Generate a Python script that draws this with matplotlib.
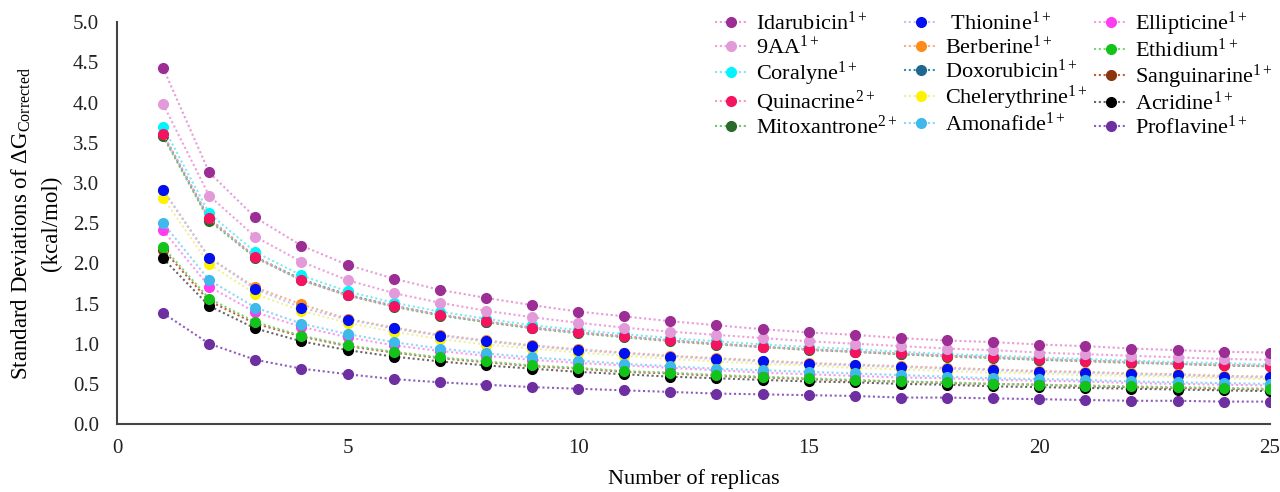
import numpy as np
import matplotlib
matplotlib.use('Agg')
import matplotlib.pyplot as plt

plt.rcParams['font.family'] = ['Liberation Serif', 'DejaVu Serif']
plt.rcParams['mathtext.fontset'] = 'custom'
plt.rcParams['mathtext.rm'] = 'Liberation Serif'
plt.rcParams['mathtext.it'] = 'Liberation Serif:italic'

# number of replicas
replicas = list(range(1, 26))

# standard deviations (kcal/mol)
idarubicin = [4.43, 3.13, 2.57, 2.22, 1.98, 1.81, 1.67, 1.57, 1.48, 1.40, 1.34, 1.28, 1.23,
              1.18, 1.14, 1.11, 1.07, 1.04, 1.02, 0.99, 0.97, 0.94, 0.92, 0.90, 0.89]
aa9 = [3.98, 2.84, 2.33, 2.02, 1.79, 1.63, 1.51, 1.41, 1.33, 1.26, 1.20, 1.15, 1.11,
       1.07, 1.03, 1.00, 0.97, 0.94, 0.92, 0.89, 0.87, 0.85, 0.83, 0.81, 0.80]
coralyne = [3.70, 2.62, 2.14, 1.85, 1.65, 1.51, 1.40, 1.31, 1.23, 1.17, 1.12, 1.07, 1.03,
            0.99, 0.96, 0.93, 0.90, 0.87, 0.85, 0.83, 0.81, 0.79, 0.77, 0.76, 0.74]
quinacrine = [3.61, 2.56, 2.08, 1.79, 1.60, 1.47, 1.36, 1.28, 1.20, 1.14, 1.09, 1.04, 1.00,
              0.96, 0.93, 0.90, 0.88, 0.85, 0.83, 0.81, 0.79, 0.77, 0.75, 0.74, 0.72]
mitoxantrone = [3.58, 2.53, 2.07, 1.79, 1.60, 1.46, 1.35, 1.27, 1.19, 1.13, 1.08, 1.03, 0.99,
                0.96, 0.92, 0.90, 0.87, 0.84, 0.82, 0.80, 0.78, 0.76, 0.75, 0.73, 0.72]
thionine = [2.91, 2.07, 1.68, 1.45, 1.30, 1.19, 1.10, 1.03, 0.97, 0.92, 0.88, 0.84, 0.81,
            0.78, 0.75, 0.73, 0.71, 0.69, 0.67, 0.65, 0.64, 0.62, 0.61, 0.59, 0.58]
berberine = [2.91, 2.07, 1.70, 1.49, 1.31, 1.20, 1.11, 1.04, 0.98, 0.93, 0.89, 0.85, 0.82,
             0.79, 0.76, 0.74, 0.72, 0.70, 0.68, 0.66, 0.65, 0.63, 0.62, 0.60, 0.59]
doxorubicin = [3.60, 2.55, 2.08, 1.80, 1.61, 1.47, 1.36, 1.27, 1.20, 1.14, 1.09, 1.04, 1.00,
               0.96, 0.93, 0.90, 0.87, 0.85, 0.83, 0.80, 0.79, 0.77, 0.75, 0.73, 0.72]
chelerythrine = [2.81, 1.99, 1.62, 1.41, 1.26, 1.15, 1.06, 0.99, 0.94, 0.89, 0.85, 0.81, 0.78,
                 0.75, 0.73, 0.70, 0.68, 0.66, 0.64, 0.63, 0.61, 0.60, 0.59, 0.57, 0.56]
amonafide = [2.50, 1.79, 1.45, 1.25, 1.12, 1.02, 0.94, 0.88, 0.83, 0.79, 0.75, 0.72, 0.69,
             0.67, 0.65, 0.63, 0.61, 0.59, 0.57, 0.56, 0.55, 0.53, 0.52, 0.51, 0.50]
ellipticine = [2.41, 1.71, 1.39, 1.21, 1.08, 0.98, 0.91, 0.85, 0.80, 0.76, 0.73, 0.70, 0.67,
               0.64, 0.62, 0.60, 0.58, 0.57, 0.55, 0.54, 0.53, 0.51, 0.50, 0.49, 0.48]
ethidium = [2.20, 1.56, 1.27, 1.10, 0.98, 0.90, 0.83, 0.78, 0.73, 0.70, 0.66, 0.64, 0.61,
            0.59, 0.57, 0.55, 0.53, 0.52, 0.50, 0.49, 0.48, 0.47, 0.46, 0.45, 0.44]
sanguinarine = [2.17, 1.53, 1.25, 1.09, 0.97, 0.89, 0.82, 0.77, 0.72, 0.69, 0.65, 0.63, 0.60,
                0.58, 0.56, 0.54, 0.53, 0.51, 0.50, 0.49, 0.47, 0.46, 0.45, 0.44, 0.43]
acridine = [2.06, 1.47, 1.19, 1.03, 0.92, 0.84, 0.78, 0.73, 0.69, 0.65, 0.62, 0.59, 0.57,
            0.55, 0.53, 0.52, 0.50, 0.49, 0.47, 0.46, 0.45, 0.44, 0.43, 0.42, 0.41]
proflavine = [1.38, 1.00, 0.80, 0.69, 0.62, 0.56, 0.52, 0.49, 0.46, 0.44, 0.42, 0.40, 0.38,
              0.37, 0.36, 0.35, 0.33, 0.33, 0.32, 0.31, 0.30, 0.29, 0.29, 0.28, 0.28]

# (label, values, marker colour, line colour) in legend order (column by column)
series = [
    ('Idarubicin$^{1+}$', idarubicin, '#9b2d95', '#e99ad8'),
    ('9AA$^{1+}$', aa9, '#e39ad9', '#ef9fdc'),
    ('Coralyne$^{1+}$', coralyne, '#00f5ff', '#7fe8f0'),
    ('Quinacrine$^{2+}$', quinacrine, '#f5135f', '#f49ac8'),
    ('Mitoxantrone$^{2+}$', mitoxantrone, '#2a6a2a', '#72c472'),
    (' Thionine$^{1+}$', thionine, '#0010f0', '#c6c4ee'),
    ('Berberine$^{1+}$', berberine, '#ff8c1a', '#f5b08a'),
    ('Doxorubicin$^{1+}$', doxorubicin, '#1e6890', '#3a8db0'),
    ('Chelerythrine$^{1+}$', chelerythrine, '#fff200', '#f2ef9a'),
    ('Amonafide$^{1+}$', amonafide, '#3fb8ec', '#8fd6f4'),
    ('Ellipticine$^{1+}$', ellipticine, '#ff3cf0', '#f79af0'),
    ('Ethidium$^{1+}$', ethidium, '#12c41a', '#7ad67a'),
    ('Sanguinarine$^{1+}$', sanguinarine, '#8a3510', '#c85a3c'),
    ('Acridine$^{1+}$', acridine, '#000000', '#666666'),
    ('Proflavine$^{1+}$', proflavine, '#6e2fa0', '#8e5cc0'),
]

# draw order so that overlaps look like the reference
draw_order = [7, 4, 2, 3, 1, 0, 6, 8, 5, 10, 9, 12, 13, 11, 14]

fig = plt.figure(figsize=(12.8, 4.92), dpi=100)
ax = fig.add_axes([0.0914, 0.138, 0.9006, 0.817])

handles = [None] * len(series)
for i in draw_order:
    label, vals, mcol, lcol = series[i]
    ln, = ax.plot(replicas, vals, linestyle=(0, (1, 1.3)), linewidth=1.5, color=lcol,
                  marker='o', markersize=7, markerfacecolor=mcol, markeredgecolor=mcol,
                  label=label, zorder=2 + draw_order.index(i))
    handles[i] = ln

ax.set_xlim(0, 25)
ax.set_ylim(0, 5)
ax.set_xticks([0, 5, 10, 15, 20, 25])
ax.set_yticks(np.arange(0, 5.01, 0.5))
ax.yaxis.set_major_formatter(matplotlib.ticker.FormatStrFormatter('%.1f'))
ax.tick_params(axis='both', length=0, labelsize=15, colors='#222222')
ax.tick_params(axis='x', pad=11)
ax.tick_params(axis='y', pad=13)
for s in ['top', 'right']:
    ax.spines[s].set_visible(False)
for s in ['left', 'bottom']:
    ax.spines[s].set_color('#444444')
    ax.spines[s].set_linewidth(1.5)

ax.set_xlabel('Number of replicas', fontsize=16, labelpad=8)
ax.set_ylabel('Standard Deviations of ΔG$_{\\mathrm{Corrected}}$\n(kcal/mol)', fontsize=16.5,
              labelpad=8, linespacing=1.45)

fig.legend(handles=handles, labels=[s[0] for s in series], ncol=3, frameon=False,
           loc='upper left', bbox_to_anchor=(0.548, 1.008), fontsize=16,
           handlelength=1.5, handletextpad=0.35, columnspacing=0.3, labelspacing=0.04,
           borderaxespad=0.2)

fig.savefig('out.png', dpi=100)
